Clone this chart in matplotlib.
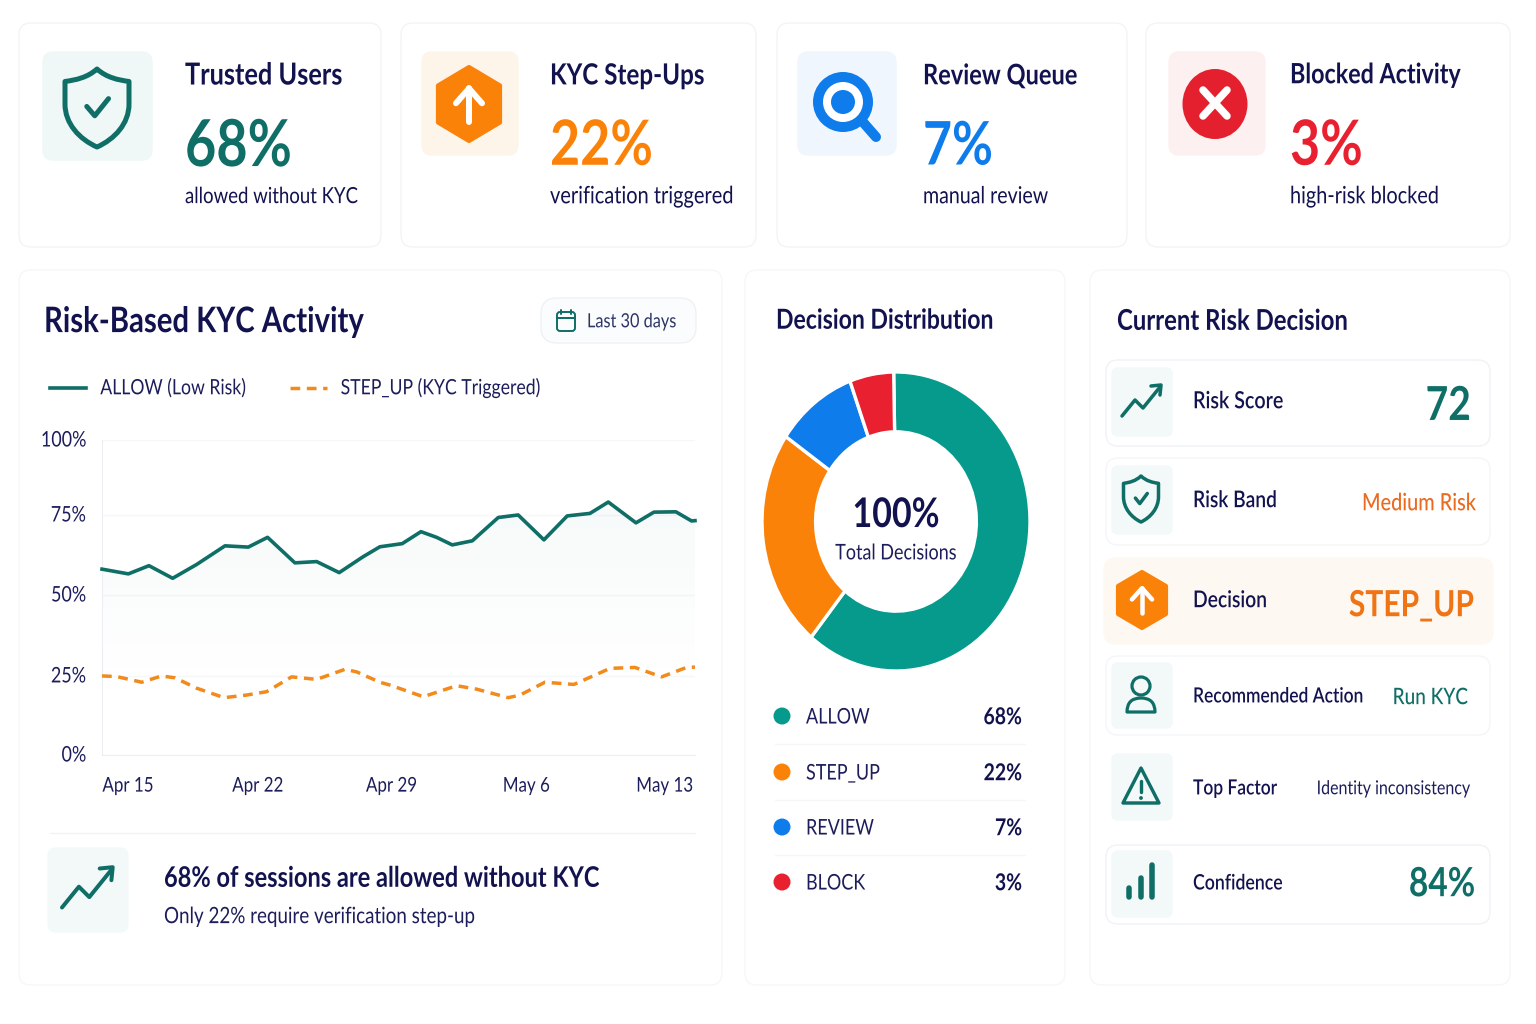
import matplotlib
matplotlib.use("Agg")
import matplotlib.pyplot as plt
import numpy as np
from matplotlib.lines import Line2D
from matplotlib.patches import Circle, Ellipse, FancyBboxPatch, PathPatch, Polygon
from matplotlib.path import Path
from matplotlib.patheffects import AbstractPathEffect
from matplotlib.transforms import Affine2D

plt.rcParams['font.family'] = ['Lato', 'DejaVu Sans']

# line chart data, x is days after Apr 15
allow_days = [-1.36, 0.02, 1.10, 2.34, 3.60, 5.08, 6.30, 7.31, 8.74, 9.88, 11.06, 12.30, 13.19, 14.36, 15.34,
              16.16, 16.98, 18.03, 19.39, 20.43, 21.78, 23.0, 24.19, 25.15, 26.6, 27.54, 28.69, 29.51, 29.69]
allow_vals = [59.0, 57.5, 60.1, 56.1, 60.5, 66.4, 66.0, 69.1, 61.0, 61.4, 57.9, 62.9, 66.1, 67.1, 70.9,
              69.1, 66.7, 68.0, 75.4, 76.2, 68.3, 75.9, 76.7, 80.3, 73.7, 77.1, 77.2, 74.3, 74.4]
stepup_days = [-1.36, -0.59, 0.72, 1.76, 2.46, 3.60, 5.03, 6.18, 7.26, 8.57, 9.88, 11.36, 11.97, 13.19, 13.72,
               15.46, 17.21, 18.26, 19.91, 20.52, 21.83, 23.35, 25.24, 26.54, 27.94, 29.25, 29.69]
stepup_vals = [25.1, 24.9, 23.1, 25.1, 24.5, 21.2, 18.2, 19.0, 20.1, 24.8, 24.0, 27.2, 26.4, 23.1, 22.2,
               18.5, 22.0, 20.9, 18.2, 19.0, 23.1, 22.4, 27.5, 27.8, 24.8, 27.8, 27.9]
# ticks sit where the picture has them, it is not quite evenly spaced
x_ticks = [0, 6.8, 13.8, 20.85, 28.1]
x_labels = ['Apr 15', 'Apr 22', 'Apr 29', 'May 6', 'May 13']
y_ticks = [0, 25.1, 50.8, 76.2, 100]
y_labels = ['0%', '25%', '50%', '75%', '100%']

# donut, slice sizes as drawn in the picture
donut_names = ['ALLOW', 'STEP_UP', 'REVIEW', 'BLOCK']
donut_sizes = [61.2, 23.7, 9.8, 5.3]
donut_labels = ['68%', '22%', '7%', '3%']

NAVY = '#12124f'
TEAL = '#0f6e66'
TEAL2 = '#069a8c'
ORANGE = '#fb8209'
BLUE = '#0f7cec'
RED = '#e8202f'
donut_colors = [TEAL2, ORANGE, BLUE, RED]

kpi_titles = ['Trusted Users', 'KYC Step-Ups', 'Review Queue', 'Blocked Activity']
kpi_values = ['68%', '22%', '7%', '3%']
kpi_subs = ['allowed without KYC', 'verification triggered', 'manual review', 'high-risk blocked']
kpi_colors = [TEAL, ORANGE, BLUE, RED]

W, H = 1536, 1024
fig = plt.figure(figsize=(W / 100, H / 100), dpi=100, facecolor='white')
bg = fig.add_axes([0, 0, 1, 1], zorder=0)
bg.set_xlim(0, W)
bg.set_ylim(H, 0)
bg.axis('off')


# reference type is narrower than Lato, so size by width and stretch the glyphs upward
class Tall(AbstractPathEffect):
    def draw_path(self, renderer, gc, tpath, affine, rgbFace=None):
        renderer.draw_path(gc, tpath, Affine2D().scale(1, 1.2) + affine, rgbFace)


def px_axes(x0, y0, x1, y1, **kw):
    return fig.add_axes([x0 / W, 1 - y1 / H, (x1 - x0) / W, (y1 - y0) / H], **kw)


def box(x0, y0, x1, y1, r=12, fc='white', ec='#f3f4f7', lw=1.0, z=1):
    bg.add_patch(FancyBboxPatch((x0 + r, y0 + r), x1 - x0 - 2 * r, y1 - y0 - 2 * r,
                                boxstyle=f'round,pad={r},rounding_size={r}', fc=fc, ec=ec, lw=lw, zorder=z))


def label(x, y, s, px, color=NAVY, weight='normal', ha='left'):
    bg.text(x, y + 0.14 * px, s, fontsize=px * 0.72, color=color, fontweight=weight, ha=ha, va='center', zorder=5,
            path_effects=[Tall()])


def stroke(pts, color, lw, z=4):
    xs, ys = zip(*pts)
    bg.add_line(Line2D(xs, ys, color=color, lw=lw * 0.72, solid_capstyle='round', solid_joinstyle='round', zorder=z))


def shield(cx, cy, w, h, lw):
    verts = [(0, -1), (0.3, -0.78), (0.65, -0.72), (1, -0.68), (1, -0.1), (1, 0.4), (0.55, 0.8), (0, 1),
             (-0.55, 0.8), (-1, 0.4), (-1, -0.1), (-1, -0.68), (-0.65, -0.72), (-0.3, -0.78), (0, -1), (0, -1)]
    codes = [Path.MOVETO] + [Path.CURVE4] * 3 + [Path.LINETO] + [Path.CURVE4] * 6 + [Path.LINETO] + \
            [Path.CURVE4] * 3 + [Path.CLOSEPOLY]
    pts = [(cx + a * w, cy + b * h) for a, b in verts]
    bg.add_patch(PathPatch(Path(pts, codes), fc='none', ec=TEAL, lw=lw * 0.72, joinstyle='round', zorder=4))
    stroke([(cx - 0.32 * w, cy - 0.04 * h), (cx - 0.07 * w, cy + 0.2 * h), (cx + 0.36 * w, cy - 0.24 * h)], TEAL, lw)


def hex_arrow(cx, cy, w, h, lw):
    hex_pts = [(cx, cy - h), (cx + w, cy - h * 0.5), (cx + w, cy + h * 0.5), (cx, cy + h),
               (cx - w, cy + h * 0.5), (cx - w, cy - h * 0.5)]
    bg.add_patch(Polygon(hex_pts, closed=True, fc=ORANGE, ec=ORANGE, lw=3, joinstyle='round', zorder=4))
    stroke([(cx, cy + h * 0.48), (cx, cy - h * 0.42)], 'white', lw, z=5)
    stroke([(cx - w * 0.42, cy - h * 0.02), (cx, cy - h * 0.42), (cx + w * 0.42, cy - h * 0.02)], 'white', lw, z=5)


def trending(cx, cy, s, lw):
    line = [(-20, 15), (-7, -1), (1, 7), (18, -14)]
    head = [(9, -15), (19, -16), (18, -6)]
    stroke([(cx + a * s, cy + b * s) for a, b in line], TEAL, lw)
    stroke([(cx + a * s, cy + b * s) for a, b in head], TEAL, lw)


# top cards
card_x = [(19, 381), (401, 756), (777, 1127), (1146, 1510)]
icon_box = [(43, 52, 152, 160, '#eff7f7'), (422, 52, 518, 155, '#fdf4ea'),
            (798, 52, 896, 155, '#eff6fd'), (1169, 52, 1265, 155, '#fdf0f1')]
text_x = [185, 550, 923, 1290]
title_px = [25.3, 24.2, 23.6, 23.3]
value_px = [54, 52, 50, 52]
sub_px = [18.6, 20, 19.6, 19.9]
for i in range(4):
    box(card_x[i][0], 23, card_x[i][1], 247)
    x0, y0, x1, y1, c = icon_box[i]
    box(x0, y0, x1, y1, r=10, fc=c, ec=c)
    label(text_x[i], 73.5, kpi_titles[i], title_px[i], weight='bold')
    label(text_x[i], 143, kpi_values[i], value_px[i], color=kpi_colors[i], weight='bold')
    label(text_x[i], 195, kpi_subs[i], sub_px[i])

shield(97, 108, 32, 39, 5)
hex_arrow(469, 104, 31, 37, 6)
stroke([(862, 121), (876, 137)], BLUE, 10)
bg.add_patch(Circle((843, 102), 30, fc=BLUE, ec='none', zorder=4))
bg.add_patch(Circle((843, 102), 20, fc='white', ec='none', zorder=4))
bg.add_patch(Circle((843, 102), 12, fc=BLUE, ec='none', zorder=4))
bg.add_patch(Ellipse((1215, 104), 65, 70, fc='#e5202e', ec='none', zorder=4))
stroke([(1203, 90), (1227, 116)], 'white', 7.5, z=5)
stroke([(1227, 90), (1203, 116)], 'white', 7.5, z=5)

# lower panels
box(19, 270, 722, 985, ec='#f6f7f9')
box(745, 270, 1065, 985, ec='#f6f7f9')
box(1090, 270, 1510, 985, ec='#f6f7f9')

label(44, 320, 'Risk-Based KYC Activity', 29.3, weight='bold')
label(776, 319, 'Decision Distribution', 23, weight='bold')
label(1117, 319, 'Current Risk Decision', 23.9, weight='bold')

# date pill
box(541, 298, 696, 343, r=16, fc='#fafcfd', ec='#eef2f5')
box(557, 312, 575, 331, r=3, fc='none', ec=TEAL, lw=1.4, z=4)
stroke([(557, 318), (575, 318)], TEAL, 2)
stroke([(561, 310), (561, 314)], TEAL, 2)
stroke([(571, 310), (571, 314)], TEAL, 2)
label(587, 321, 'Last 30 days', 16.3, color='#2e3564')

# line chart
ax = px_axes(102, 440, 695, 755, zorder=2)
ax.patch.set_alpha(0)
poly = ax.fill_between(allow_days, allow_vals, 0, color='none')
shade = np.zeros((64, 2, 4))
shade[..., :3] = (0.05, 0.45, 0.42)
shade[..., 3] = np.clip(np.linspace(0.035, -0.004, 64), 0, None)[:, None]
img = ax.imshow(shade, extent=[-1.36, 29.69, 15, 78], aspect='auto', origin='upper', zorder=1)
img.set_clip_path(poly.get_paths()[0], ax.transData)
ax.plot(allow_days, allow_vals, color=TEAL, lw=2.6, zorder=3, clip_on=False, label='ALLOW (Low Risk)',
        solid_joinstyle='round')
ax.plot(stepup_days, stepup_vals, color='#f28a1c', lw=2.5, zorder=3, clip_on=False, dashes=(2.8, 1.9),
        label='STEP_UP (KYC Triggered)')
ax.set_xlim(-1.36, 29.69)
ax.set_ylim(0, 100)
ax.set_xticks(x_ticks, x_labels)
ax.set_yticks(y_ticks, y_labels)
ax.tick_params(length=0, labelcolor='#1c1d5a')
ax.tick_params(axis='x', pad=17, labelsize=12.2)
ax.tick_params(axis='y', pad=11.5, labelsize=12.9)
for t in ax.get_xticklabels() + ax.get_yticklabels():
    t.set_path_effects([Tall()])
ax.grid(axis='y', color='#f6f7f9', lw=1)
ax.set_axisbelow(True)
for side in ['top', 'right']:
    ax.spines[side].set_visible(False)
for side in ['left', 'bottom']:
    ax.spines[side].set_color('#eceef2')

leg = ax.legend(loc='center left', bbox_to_anchor=(50, 389), bbox_transform=bg.transData, ncol=2, frameon=False,
                fontsize=12.7, labelcolor='#1c1d5a', handlelength=2.05, handletextpad=0.8, columnspacing=2.5,
                borderpad=0, borderaxespad=0)
for t in leg.get_texts():
    t.set_path_effects([Tall()])

# insight strip
stroke([(50, 833), (695, 833)], '#f1f2f5', 1.4, z=2)
box(48, 848, 128, 932, r=8, fc='#f3f9f9', ec='#f3f9f9')
trending(88, 888, 1.3, 4)
label(164, 876, '68% of sessions are allowed without KYC', 23.6, weight='bold')
label(164, 915, 'Only 22% require verification step-up', 18.8, color='#1c1d5a')

# donut
dx = px_axes(762, 372, 1030, 671, zorder=1)
dx.pie(donut_sizes, colors=donut_colors, startangle=91, counterclock=False, radius=1,
       wedgeprops={'width': 0.4, 'edgecolor': 'white', 'linewidth': 2.4})
dx.set_aspect('auto')
dx.set_xlim(-1, 1)
dx.set_ylim(-1, 1)
dx.text(0, 0.03, '100%', fontsize=34 * 0.72, fontweight='bold', color=NAVY, ha='center', va='center',
        path_effects=[Tall()])
dx.text(0, -0.22, 'Total Decisions', fontsize=18 * 0.72, color='#1c1d5a', ha='center', va='center',
        path_effects=[Tall()])

row_y = [716, 772, 827, 882]
for i in range(4):
    bg.add_patch(Circle((782, row_y[i]), 8.5, fc=donut_colors[i], ec='none', zorder=4))
    label(806, row_y[i], donut_names[i], 18, color='#1c1d5a')
    label(1022, row_y[i], donut_labels[i], 19.4, weight='bold', ha='right')
    if i < 3:
        stroke([(775, row_y[i] + 28), (1025, row_y[i] + 28)], '#f5f6f8', 1.4, z=2)

# decision rows
box(1106, 360, 1490, 446, ec='#f0f2f6')
box(1106, 458, 1490, 545, ec='#f3f5f8')
box(1104, 558, 1493, 644, fc='#fef8f2', ec='#fef8f2')
box(1106, 656, 1490, 735, ec='#f3f5f8')
box(1106, 845, 1490, 924, ec='#f0f2f6')
for y0, y1 in [(368, 436), (466, 534), (663, 728), (754, 820), (851, 917)]:
    box(1112, y0, 1172, y1, r=6, fc='#f3f9f9', ec='#f3f9f9', z=2)

trending(1142, 401, 1, 3.5)
shield(1141, 499, 17.5, 23, 3.5)
hex_arrow(1142, 600, 24, 28, 4.5)

bg.add_patch(Circle((1141, 686), 9, fc='none', ec=TEAL, lw=3.2 * 0.72, zorder=4))
person = Path([(1127, 712), (1127, 698), (1141, 698), (1155, 698), (1155, 712), (1127, 712)],
              [Path.MOVETO, Path.CURVE3, Path.CURVE3, Path.CURVE3, Path.CURVE3, Path.CLOSEPOLY])
bg.add_patch(PathPatch(person, fc='none', ec=TEAL, lw=3.2 * 0.72, joinstyle='round', zorder=4))

bg.add_patch(Polygon([(1141, 768), (1159, 803), (1123, 803)], closed=True, fc='none', ec=TEAL, lw=3.4 * 0.72,
                     joinstyle='round', zorder=4))
stroke([(1141, 781), (1141, 792)], TEAL, 3.4)
bg.add_patch(Circle((1141, 798), 1.9, fc=TEAL, ec='none', zorder=4))

for bar_x, bar_top in [(1129, 888), (1140.5, 878), (1152, 865)]:
    stroke([(bar_x, bar_top), (bar_x, 897)], TEAL, 5.5)

label(1193, 400, 'Risk Score', 19.7, weight='semibold')
label(1193, 499, 'Risk Band', 19.2, weight='semibold')
label(1193, 599, 'Decision', 19.3, weight='semibold')
label(1193, 695, 'Recommended Action', 17.4, weight='semibold')
label(1193, 787, 'Top Factor', 17.4, weight='semibold')
label(1193, 882, 'Confidence', 17.7, weight='semibold')
label(1471, 403, '72', 39, color=TEAL, weight='bold', ha='right')
label(1476, 502, 'Medium Risk', 19.9, color='#ea6a1f', weight='medium', ha='right')
label(1474, 603, 'STEP_UP', 30, color='#ef7415', weight='bold', ha='right')
label(1468, 696, 'Run KYC', 19, color=TEAL, weight='medium', ha='right')
label(1470, 788, 'Identity inconsistency', 16, color='#1c1d5a', ha='right')
label(1475, 882, '84%', 33.5, color=TEAL, weight='bold', ha='right')

fig.savefig('out.png', dpi=100)
